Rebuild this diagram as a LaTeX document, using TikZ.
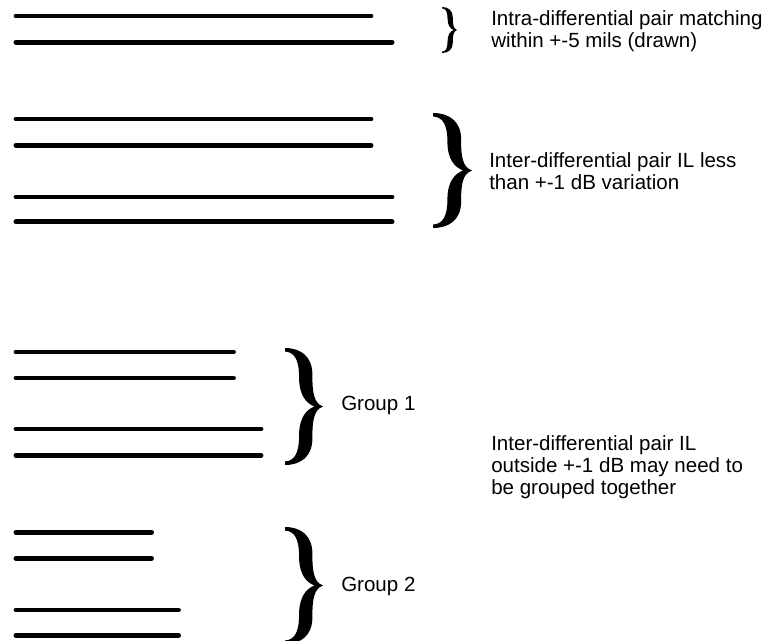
\documentclass[tikz,border=0pt]{standalone}
\usepackage{fontspec}
\setmainfont{Liberation Sans}
\begin{document}
\begin{tikzpicture}[x=0.75pt,y=-0.75pt,
  trace/.style={line width=3.7pt, line cap=round},
  note/.style={anchor=base west, inner sep=0pt, align=left,
    font=\fontsize{15.4}{16.5}\selectfont},
  % a typographic right brace: terminals at x=0, tip at (1,0)
  curly/.pic={
    \fill (0,1) .. controls (0.42,1) and (0.72,0.85) .. (0.72,0.55)
      .. controls (0.72,0.25) and (0.75,0.06) .. (1,0)
      .. controls (0.75,-0.06) and (0.72,-0.25) .. (0.72,-0.55)
      .. controls (0.72,-0.85) and (0.42,-1) .. (0,-1)
      -- (0,-0.94)
      .. controls (0.25,-0.93) and (0.37,-0.8) .. (0.37,-0.5)
      .. controls (0.37,-0.2) and (0.55,-0.06) .. (0.77,0)
      .. controls (0.55,0.06) and (0.37,0.2) .. (0.37,0.5)
      .. controls (0.37,0.8) and (0.25,0.93) .. (0,0.94) -- cycle;
  }]
\useasboundingbox (0,0) rectangle (765,640);

% one matched pair
\draw[trace] (16,16) -- (371,16);
\draw[trace] (16,42.3) -- (392,42.3);
\pic (b1) at (442,30) [xscale=15, yscale=23] {curly};
\node[note] (t1) at (491,47) {Intra-differential pair matching\\within +-5 mils (drawn)};

% two pairs with similar loss
\draw[trace] (16,119) -- (371,119);
\draw[trace] (16,145.3) -- (371,145.3);
\draw[trace] (16,197) -- (392,197);
\draw[trace] (16,221.7) -- (392,221.7);
\pic (b2) at (433,170.5) [xscale=39, yscale=57.5] {curly};
\node[note] (t2) at (489,189) {Inter-differential pair IL less\\than +-1 dB variation};

% group 1
\draw[trace] (16,352) -- (233.5,352);
\draw[trace] (16,378) -- (233.5,378);
\draw[trace] (16,429) -- (261,429);
\draw[trace] (16,455.3) -- (261,455.3);
\pic (g1) at (285,406.5) [xscale=38, yscale=58.5] {curly};
\node[note] (l1) at (341,410) {Group 1};

% group 2
\draw[trace] (16,532.3) -- (151.5,532.3);
\draw[trace] (16,558.3) -- (151.5,558.3);
\draw[trace] (16,610) -- (178.5,610);
\draw[trace] (16,635.3) -- (178.5,635.3);
\pic (g2) at (285,585.5) [xscale=38, yscale=58.5] {curly};
\node[note] (l2) at (341,591) {Group 2};

\node[note] (t3) at (491,494) {Inter-differential pair IL\\outside +-1 dB may need to\\be grouped together};
\end{tikzpicture}
\end{document}
